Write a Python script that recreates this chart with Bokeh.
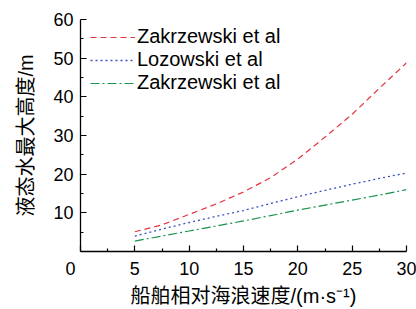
from bokeh.plotting import figure
from bokeh.models import (FixedTicker, Legend, LegendItem, Range1d)
from bokeh.embed import file_html
from bokeh.resources import INLINE

# ---- data ----
speed = [5, 7.5, 10, 12.5, 15, 17.5, 20, 22.5, 25, 27.5, 30]
zak_red = [5.1, 6.9, 9.6, 12.3, 15.4, 19.1, 23.9, 29.6, 35.5, 42.2, 48.8]
lozowski = [4.0, 5.8, 7.5, 9.1, 10.6, 12.4, 14.2, 15.8, 17.4, 18.9, 20.3]
zak_green = [2.7, 4.0, 5.3, 6.6, 7.9, 9.3, 10.7, 12.0, 13.3, 14.6, 16.0]
labels = ["Zakrzewski et al", "Lozowski et al", "Zakrzewski et al"]
x_ticks = [0, 5, 10, 15, 20, 25, 30]
x_minor = [2.5, 7.5, 12.5, 17.5, 22.5, 27.5]
y_ticks = [10, 20, 30, 40, 50, 60]
y_minor = [5, 15, 25, 35, 45, 55]
x_title = "船舶相对海浪速度/(m·s⁻¹)"
y_title = "液态水最大高度/m"

LATIN = "Liberation Sans"
MIXED = "Liberation Sans, Noto Sans CJK SC"

p = figure(width=416, height=309, output_backend="svg", toolbar_location=None,
           x_range=Range1d(0, 30), y_range=Range1d(0, 60),
           min_border_left=80, min_border_right=10, min_border_top=19,
           min_border_bottom=58)
p.outline_line_color = None
p.grid.visible = False
p.background_fill_color = "white"
p.border_fill_color = "white"

r1 = p.line(speed, zak_red, line_color="#e0343f", line_width=1.2, line_dash="6 4")
r2 = p.line(speed, lozowski, line_color="#3a50c4", line_width=1.3, line_dash="2 3")
r3 = p.line(speed, zak_green, line_color="#17924c", line_width=1.2, line_dash="9 3 2 3")

legend = Legend(items=[LegendItem(label=labels[0], renderers=[r1]),
                       LegendItem(label=labels[1], renderers=[r2]),
                       LegendItem(label=labels[2], renderers=[r3])],
                location=(10, 157), border_line_color=None,
                background_fill_alpha=0, padding=0, margin=0, spacing=0,
                glyph_width=45, glyph_height=22, label_height=22,
                label_standoff=2, label_text_font=LATIN,
                label_text_font_size="20px", label_text_color="black")
p.add_layout(legend, "center")

for ax in (p.xaxis, p.yaxis):
    ax.axis_line_color = "black"
    ax.axis_line_width = 1.3
    ax.major_tick_line_color = "black"
    ax.minor_tick_line_color = "black"
    ax.major_tick_line_width = 1.2
    ax.minor_tick_line_width = 1.2
    ax.major_tick_in = 6
    ax.major_tick_out = 0
    ax.minor_tick_in = 3
    ax.minor_tick_out = 0
    ax.major_label_text_font = LATIN
    ax.major_label_text_font_size = "18px"
    ax.major_label_text_color = "black"
    ax.axis_label_text_font = MIXED
    ax.axis_label_text_font_size = "20px"
    ax.axis_label_text_font_style = "normal"
    ax.axis_label_text_color = "black"

p.xaxis.ticker = FixedTicker(ticks=x_ticks, minor_ticks=x_minor)
p.yaxis.ticker = FixedTicker(ticks=y_ticks, minor_ticks=y_minor)
p.xaxis.major_label_overrides = {0: "0\u2007\u2007"}
p.xaxis.axis_label = x_title
p.yaxis.axis_label = y_title
p.xaxis.major_label_standoff = 7
p.xaxis.axis_label_standoff = 3
p.yaxis.major_label_standoff = 7
p.yaxis.axis_label_standoff = 13

open("out.html", "w").write(file_html(p, INLINE))
